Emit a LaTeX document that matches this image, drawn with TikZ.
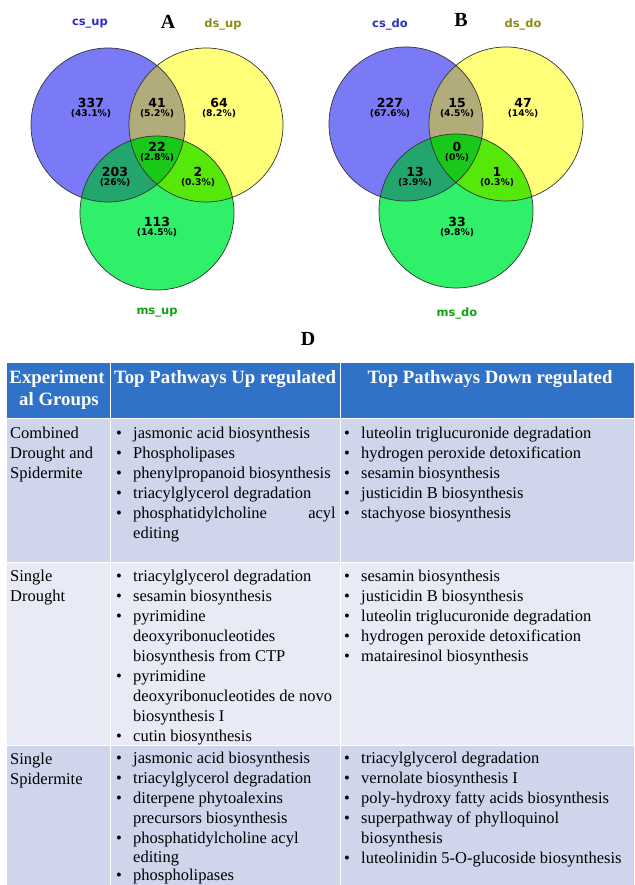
\documentclass[tikz,border=0pt]{standalone}
\usepackage{fontspec}
\setmainfont{Liberation Serif}
\newfontfamily\dvs{DejaVu Sans}
\definecolor{csC}{RGB}{122,122,246}
\definecolor{dsC}{RGB}{255,255,122}
\definecolor{msC}{RGB}{48,240,105}
\definecolor{cdC}{RGB}{178,172,122}
\definecolor{cmC}{RGB}{35,165,110}
\definecolor{dmC}{RGB}{85,232,10}
\definecolor{allC}{RGB}{25,200,25}
\definecolor{csL}{RGB}{45,45,205}
\definecolor{dsL}{RGB}{140,140,20}
\definecolor{msL}{RGB}{20,160,20}
\definecolor{hdC}{RGB}{47,114,200}
\definecolor{rowA}{RGB}{207,213,235}
\definecolor{rowB}{RGB}{232,235,246}
\newcommand\myvenn[3]{%
 \fill[csC] #1 circle[radius=77pt];
 \fill[dsC] #2 circle[radius=77pt];
 \fill[msC] #3 circle[radius=77pt];
 \begin{scope}\clip #1 circle[radius=77pt]; \fill[cdC] #2 circle[radius=77pt]; \end{scope}
 \begin{scope}\clip #1 circle[radius=77pt]; \fill[cmC] #3 circle[radius=77pt]; \end{scope}
 \begin{scope}\clip #2 circle[radius=77pt]; \fill[dmC] #3 circle[radius=77pt]; \end{scope}
 \begin{scope}\clip #1 circle[radius=77pt]; \clip #2 circle[radius=77pt]; \fill[allC] #3 circle[radius=77pt]; \end{scope}
 \draw[vline] #1 circle[radius=77pt] #2 circle[radius=77pt] #3 circle[radius=77pt];
}
\tikzset{
 vline/.style={draw=black!80, line width=0.7pt},
 vnum/.style={font=\dvs\bfseries\fontsize{12.5}{12.5}\selectfont, inner sep=0pt},
 vpct/.style={font=\dvs\bfseries\fontsize{9.2}{9.2}\selectfont, inner sep=0pt},
 vlab/.style={font=\dvs\bfseries\fontsize{11.5}{11.5}\selectfont, inner sep=0pt},
 panel/.style={font=\bfseries\fontsize{20}{20}\selectfont, inner sep=0pt},
 hd/.style={font=\bfseries\fontsize{18.8}{18.8}\selectfont, text=white, inner sep=0pt, anchor=base},
 txt/.style={font=\fontsize{16.5}{20}\selectfont, inner sep=0pt, anchor=base west},
 bul/.style={font=\fontsize{16.5}{20}\selectfont, inner sep=0pt, anchor=base west},
 sep/.style={draw=white, line width=1pt}
}
\begin{document}
\begin{tikzpicture}[x=1pt,y=-1pt]
\clip (0,0) rectangle (634,885);
\fill[white] (0,0) rectangle (634,885);
% ---------- Venn A
\myvenn{(108,125)}{(206,125)}{(157,213)}
\node[vlab, text=csL] (lcsu) at (90,24) {cs\_up};
\node[panel] (pA) at (168,22) {A};
\node[vlab, text=dsL] (ldsu) at (223,24) {ds\_up};
\node[vlab, text=msL] (lmsu) at (157,313) {ms\_up};
\node[vnum] (a1) at (91,103) {337};  \node[vpct] (a1p) at (91,114) {(43.1\%)};
\node[vnum] (a2) at (157,103) {41};  \node[vpct] (a2p) at (157,114) {(5.2\%)};
\node[vnum] (a3) at (219,103) {64};  \node[vpct] (a3p) at (219,114) {(8.2\%)};
\node[vnum] (a4) at (157,147) {22};  \node[vpct] (a4p) at (157,158) {(2.8\%)};
\node[vnum] (a5) at (115,172) {203}; \node[vpct] (a5p) at (115,183) {(26\%)};
\node[vnum] (a6) at (198,172) {2};   \node[vpct] (a6p) at (198,183) {(0.3\%)};
\node[vnum] (a7) at (157,222) {113}; \node[vpct] (a7p) at (157,233) {(14.5\%)};
% ---------- Venn B
\myvenn{(406,124)}{(506,124)}{(456,211)}
\node[vlab, text=csL] (lcsd) at (390,24) {cs\_do};
\node[panel] (pB) at (461,20) {B};
\node[vlab, text=dsL] (ldsd) at (523,24) {ds\_do};
\node[vlab, text=msL] (lmsd) at (457,313) {ms\_do};
\node[vnum] (b1) at (390,103) {227}; \node[vpct] (b1p) at (390,114) {(67.6\%)};
\node[vnum] (b2) at (457,103) {15};  \node[vpct] (b2p) at (457,114) {(4.5\%)};
\node[vnum] (b3) at (523,103) {47};  \node[vpct] (b3p) at (523,114) {(14\%)};
\node[vnum] (b4) at (457,147) {0};   \node[vpct] (b4p) at (457,158) {(0\%)};
\node[vnum] (b5) at (415,172) {13};  \node[vpct] (b5p) at (415,183) {(3.9\%)};
\node[vnum] (b6) at (497,172) {1};   \node[vpct] (b6p) at (497,183) {(0.3\%)};
\node[vnum] (b7) at (457,222) {33};  \node[vpct] (b7p) at (457,233) {(9.8\%)};
% ---------- Table D
\node[panel] (pD) at (308,339) {D};
\fill[hdC] (7,363) rectangle (634,418);
\fill[rowA] (7,418) rectangle (634,562);
\fill[rowB] (7,562) rectangle (634,745);
\fill[rowA] (7,745) rectangle (634,885);
\draw[sep] (7,418) -- (634,418);
\draw[sep] (7,562) -- (634,562);
\draw[sep] (7,745) -- (634,745);
\draw[sep] (110,363) -- (110,885);
\draw[sep] (340,363) -- (340,885);
% header
\node[hd] (h1a) at (57,383) {Experiment};
\node[hd] (h1b) at (59,405) {al Groups};
\node[hd] (h2) at (225,383) {Top Pathways Up regulated};
\node[hd] (h3) at (490,383) {Top Pathways Down regulated};
% column 1
\node[txt] (g1a) at (10,438) {Combined};
\node[txt] (g1b) at (10,458) {Drought and};
\node[txt] (g1c) at (10,478) {Spidermite};
\node[txt] (g2a) at (10,581) {Single};
\node[txt] (g2b) at (10,601) {Drought};
\node[txt] (g3a) at (10,764) {Single};
\node[txt] (g3b) at (10,784) {Spidermite};
% row 1, up
\foreach \y in {438,458,478,498,518} \node[bul] (r1ub\y) at (116,\y) {•};
\foreach \y/\t in {438/jasmonic acid biosynthesis, 458/Phospholipases, 478/phenylpropanoid biosynthesis, 498/triacylglycerol degradation, 518/phosphatidylcholine, 538/editing}
  \node[txt] (r1u\y) at (133,\y) {\t};
\node[txt, anchor=base east] (r1uacyl) at (336,518) {acyl};
% row 1, down
\foreach \y in {438,458,478,498,518} \node[bul] (r1db\y) at (344,\y) {•};
\foreach \y/\t in {438/luteolin triglucuronide degradation, 458/hydrogen peroxide detoxification, 478/sesamin biosynthesis, 498/justicidin B biosynthesis, 518/stachyose biosynthesis}
  \node[txt] (r1d\y) at (361,\y) {\t};
% row 2, up
\foreach \y in {581,601,621,681,741} \node[bul] (r2ub\y) at (116,\y) {•};
\foreach \y/\t in {581/triacylglycerol degradation, 601/sesamin biosynthesis, 621/pyrimidine, 641/deoxyribonucleotides, 661/biosynthesis from CTP, 681/pyrimidine, 701/deoxyribonucleotides de novo, 721/biosynthesis I, 741/cutin biosynthesis}
  \node[txt] (r2u\y) at (133,\y) {\t};
% row 2, down
\foreach \y in {581,601,621,641,661} \node[bul] (r2db\y) at (344,\y) {•};
\foreach \y/\t in {581/sesamin biosynthesis, 601/justicidin B biosynthesis, 621/luteolin triglucuronide degradation, 641/hydrogen peroxide detoxification, 661/matairesinol biosynthesis}
  \node[txt] (r2d\y) at (361,\y) {\t};
% row 3, up
\foreach \y in {763,783,803,843,880} \node[bul] (r3ub\y) at (116,\y) {•};
\foreach \y/\t in {763/jasmonic acid biosynthesis, 783/triacylglycerol degradation, 803/diterpene phytoalexins, 823/precursors biosynthesis, 843/phosphatidylcholine acyl, 862/editing, 880/phospholipases}
  \node[txt] (r3u\y) at (133,\y) {\t};
% row 3, down
\foreach \y in {763,783,803,823,863} \node[bul] (r3db\y) at (344,\y) {•};
\foreach \y/\t in {763/triacylglycerol degradation, 783/vernolate biosynthesis I, 803/poly-hydroxy fatty acids biosynthesis, 823/superpathway of phylloquinol, 843/biosynthesis, 863/luteolinidin 5-O-glucoside biosynthesis}
  \node[txt] (r3d\y) at (361,\y) {\t};
\end{tikzpicture}
\end{document}
